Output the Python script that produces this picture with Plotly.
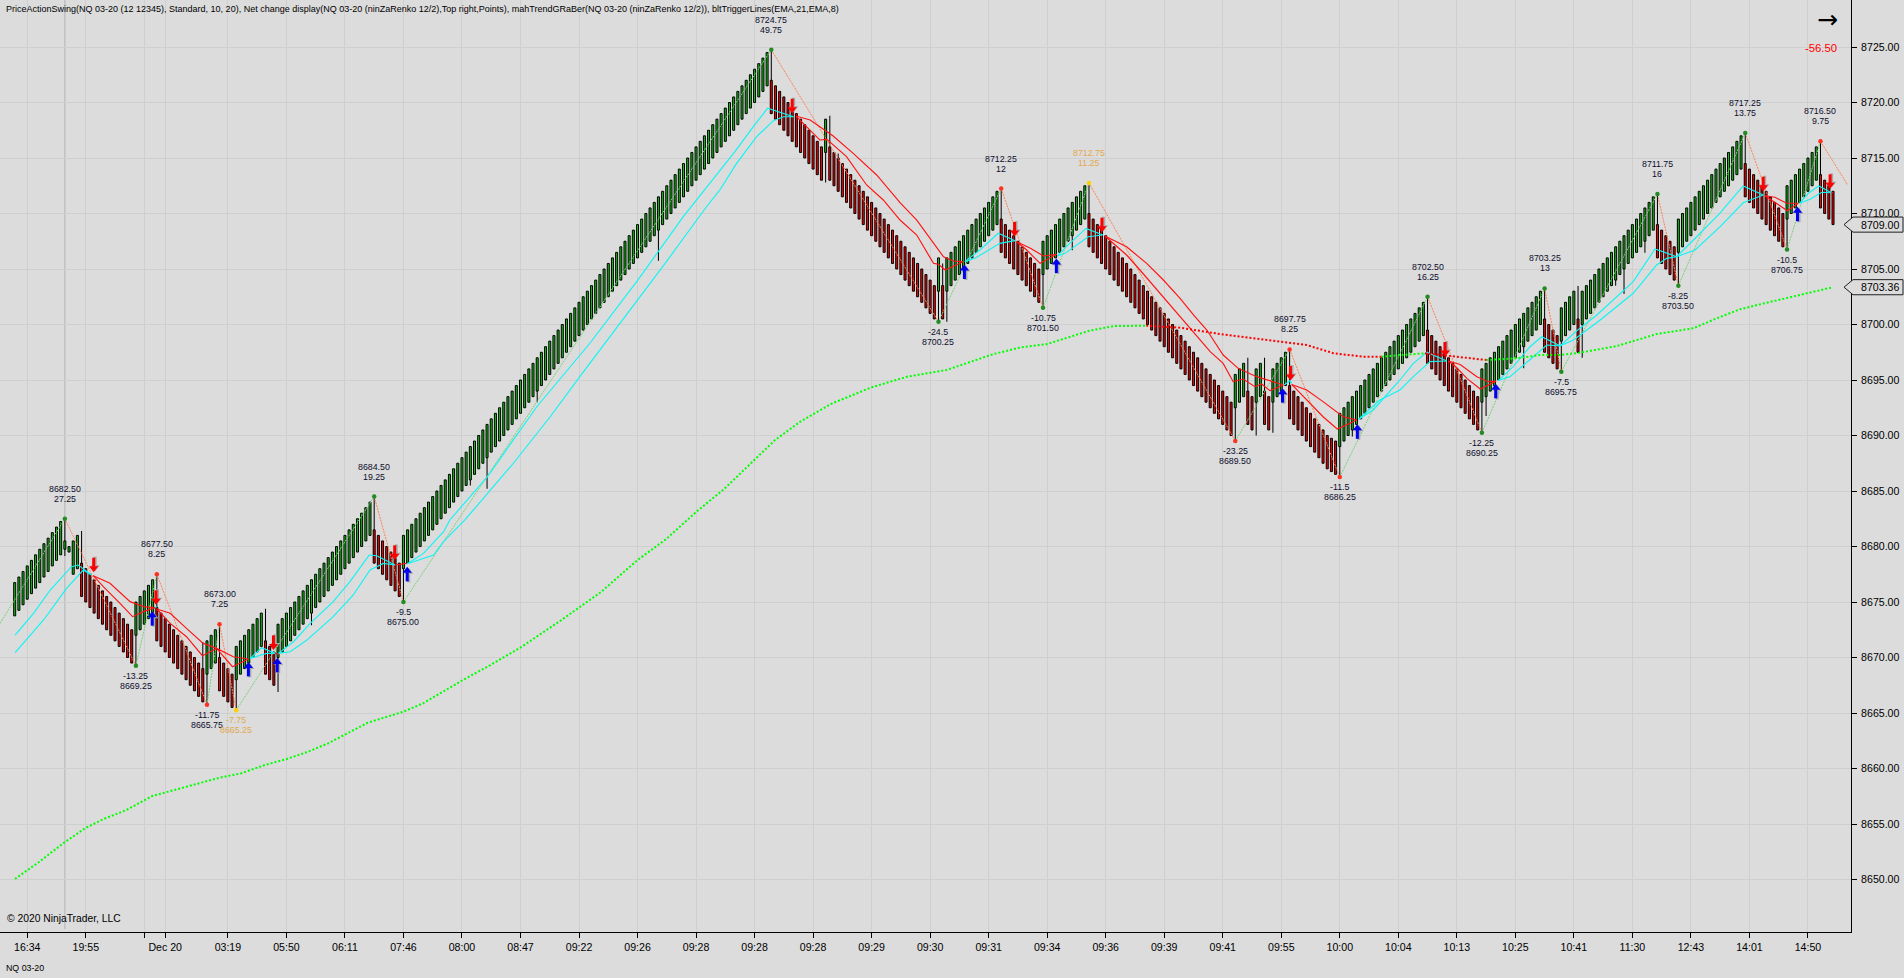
import plotly.graph_objects as go

# ---------- bars, one leg at a time ----------
leg_opens = [
 [8673.75,8674.25,8674.75,8675.25,8675.75,8676.25,8676.75,8677.25,8677.75,8678.25,8678.75,8679.25,8679.75,8679.5,8677.5,8678],
 [8678.5,8678,8677.5,8677,8676.5,8676,8675.5,8675,8674.5,8674,8673.5,8673,8672.5],
 [8672,8672.5,8673,8673.5,8674],
 [8674.5,8674,8673.5,8673,8672.5,8672,8671.5,8671,8670.5,8670,8669.5,8669],
 [8668.5,8669,8669.5],
 [8670,8669.5,8669,8668.5],
 [8668,8668.5,8669,8669.5,8670,8670.5,8671],
 [8671.5,8671,8670.5],
 [8670,8670.5,8671,8671.5,8672,8672.5,8673,8673.5,8674,8674.5,8675,8675.5,8676,8676.5,8677,8677.5,8678,8678.5,8679,8679.5,8680,8680.5,8681],
 [8681.5,8681,8680.5,8680,8679.5,8679,8678.5],
 [8678,8678.5,8679,8679.5,8680,8680.5,8681,8681.5,8682,8682.5,8683,8683.5,8684,8684.5,8685,8685.5,8686,8686.5,8687,8687.5,8688,8688.5,8689,8689.5,8690,8690.5,8691,8691.5,8692,8692.5,
  8693,8693.5,8694,8694.5,8695,8695.5,8696,8696.5,8697,8697.5,8698,8698.5,8699,8699.5,8700,8700.5,8701,8701.5,8702,8702.5,8703,8703.5,8704,8704.5,8705,8705.5,8706,8706.5,8707,8707.5,
  8708,8708.5,8709,8709.5,8710,8710.5,8711,8711.5,8712,8712.5,8713,8713.5,8714,8714.5,8715,8715.5,8716,8716.5,8717,8717.5,8718,8718.5,8719,8719.5,8720,8720.5,8721,8721.5],
 [8722,8721.5,8721,8720.5,8720,8719.5,8719,8718.5,8718,8717.5,8717,8716.5,8716],
 [8715.5],
 [8716,8715.5,8715,8714.5,8714,8713.5,8713,8712.5,8712,8711.5,8711,8710.5,8710,8709.5,8709,8708.5,8708,8707.5,8707,8706.5,8706,8705.5,8705,8704.5,8704,8703.5],
 [8703],[8703.5],[8703],
 [8703.5,8704,8704.5,8705,8705.5,8706,8706.5,8707,8707.5,8708,8708.5,8709],
 [8709.5,8709,8708.5,8708,8707.5,8707,8706.5,8706,8705.5,8705],
 [8704.5,8705,8705.5,8706,8706.5,8707,8707.5,8708,8708.5,8709,8709.5],
 [8710,8709.5,8709,8708.5,8708,8707.5,8707,8706.5,8706,8705.5,8705,8704.5,8704,8703.5,8703,8702.5,8702,8701.5,8701,8700.5,8700,8699.5,8699,8698.5,8698,8697.5,8697,8696.5,8696,8695.5,8695,8694.5,8694,8693.5,8693],
 [8692.5,8693,8693.5],[8694,8693.5],[8693,8693.5],[8694,8693.5],[8693,8693.5,8694,8694.5],
 [8694.5,8694,8693.5,8693,8692.5,8692,8691.5,8691,8690.5,8690,8689.75,8689.5],
 [8689,8689.5,8690,8690.5,8691,8691.5,8692,8692.5,8693,8693.5,8694,8694.5,8695,8695.5,8696,8696.5,8697,8697.5,8698,8698.5,8699],
 [8699.5,8699,8698.5,8698,8697.5,8697,8696.5,8696,8695.5,8695,8694.5,8694,8693.5],
 [8693,8693.5,8694,8694.5,8695,8695.5,8696,8696.5,8697,8697.5,8698,8698.5,8699,8699.5,8700],
 [8700.5,8700,8699.5,8699],[8698.5,8699,8699.5,8700],[8700.5],
 [8700,8700.5,8701,8701.5,8702,8702.5,8703,8703.5,8704,8704.5,8705,8705.5,8706,8706.5,8707,8707.5,8708,8708.5],
 [8709,8708.5,8708,8707.5,8707],
 [8706.5,8707,8707.5,8708,8708.5,8709,8709.5,8710,8710.5,8711,8711.5,8712,8712.5,8713,8713.5,8714],
 [8714.5,8714,8713.5,8713,8712.5,8712,8711.5,8711,8710.5,8710],
 [8709.5,8710,8710.5,8711,8711.5,8712,8712.5,8713],
 [8713.5,8713,8712.5,8712],
]
leg_closes = [
 [8676.75,8677.25,8677.75,8678.25,8678.75,8679.25,8679.75,8680.25,8680.75,8681.25,8681.75,8682.25,8680.5,8680,8680.5,8681],
 [8675.5,8675,8674.5,8674,8673.5,8673,8672.5,8672,8671.5,8671,8670.5,8670,8669.5],
 [8675,8675.5,8676,8676.5,8677],
 [8671.5,8671,8670.5,8670,8669.5,8669,8668.5,8668,8667.5,8667,8666.5,8666],
 [8671.5,8672,8672.5],
 [8667,8666.5,8666,8665.5],
 [8671,8671.5,8672,8672.5,8673,8673.5,8674],
 [8668.5,8668,8667.5],
 [8673,8673.5,8674,8674.5,8675,8675.5,8676,8676.5,8677,8677.5,8678,8678.5,8679,8679.5,8680,8680.5,8681,8681.5,8682,8682.5,8683,8683.5,8684],
 [8678.5,8678,8677.5,8677,8676.5,8676,8675.5],
 [8681,8681.5,8682,8682.5,8683,8683.5,8684,8684.5,8685,8685.5,8686,8686.5,8687,8687.5,8688,8688.5,8689,8689.5,8690,8690.5,8691,8691.5,8692,8692.5,8693,8693.5,8694,8694.5,8695,8695.5,
  8696,8696.5,8697,8697.5,8698,8698.5,8699,8699.5,8700,8700.5,8701,8701.5,8702,8702.5,8703,8703.5,8704,8704.5,8705,8705.5,8706,8706.5,8707,8707.5,8708,8708.5,8709,8709.5,8710,8710.5,
  8711,8711.5,8712,8712.5,8713,8713.5,8714,8714.5,8715,8715.5,8716,8716.5,8717,8717.5,8718,8718.5,8719,8719.5,8720,8720.5,8721,8721.5,8722,8722.5,8723,8723.5,8724,8724.5],
 [8719,8718.5,8718,8717.5,8717,8716.5,8716,8715.5,8715,8714.5,8714,8713.5,8713],
 [8718.5],
 [8713,8712.5,8712,8711.5,8711,8710.5,8710,8709.5,8709,8708.5,8708,8707.5,8707,8706.5,8706,8705.5,8705,8704.5,8704,8703.5,8703,8702.5,8702,8701.5,8701,8700.5],
 [8706],[8700.5],[8706],
 [8706.5,8707,8707.5,8708,8708.5,8709,8709.5,8710,8710.5,8711,8711.5,8712],
 [8706.5,8706,8705.5,8705,8704.5,8704,8703.5,8703,8702.5,8702],
 [8707.5,8708,8708.5,8709,8709.5,8710,8710.5,8711,8711.5,8712,8712.5],
 [8707,8706.5,8706,8705.5,8705,8704.5,8704,8703.5,8703,8702.5,8702,8701.5,8701,8700.5,8700,8699.5,8699,8698.5,8698,8697.5,8697,8696.5,8696,8695.5,8695,8694.5,8694,8693.5,8693,8692.5,8692,8691.5,8691,8690.5,8690],
 [8695.5,8696,8696.5],[8691,8690.5],[8696,8696.5],[8691,8690.5],[8696,8696.5,8697,8697.5],
 [8691.5,8691,8690.5,8690,8689.5,8689,8688.5,8688,8687.5,8687,8686.75,8686.5],
 [8692,8692.5,8693,8693.5,8694,8694.5,8695,8695.5,8696,8696.5,8697,8697.5,8698,8698.5,8699,8699.5,8700,8700.5,8701,8701.5,8702],
 [8696.5,8696,8695.5,8695,8694.5,8694,8693.5,8693,8692.5,8692,8691.5,8691,8690.5],
 [8696,8696.5,8697,8697.5,8698,8698.5,8699,8699.5,8700,8700.5,8701,8701.5,8702,8702.5,8703],
 [8697.5,8697,8696.5,8696],[8701.5,8702,8702.5,8703],[8697.5],
 [8703,8703.5,8704,8704.5,8705,8705.5,8706,8706.5,8707,8707.5,8708,8708.5,8709,8709.5,8710,8710.5,8711,8711.5],
 [8706,8705.5,8705,8704.5,8704],
 [8709.5,8710,8710.5,8711,8711.5,8712,8712.5,8713,8713.5,8714,8714.5,8715,8715.5,8716,8716.5,8717],
 [8711.5,8711,8710.5,8710,8709.5,8709,8708.5,8708,8707.5,8707],
 [8712.5,8713,8713.5,8714,8714.5,8715,8715.5,8716],
 [8710.5,8710,8709.5,8709],
]
# wicks: only the bars that show one
low_wick_bars = [12,29,46,53,56,63,71,93,109,113,125,154,194,221,223,246,253,292,297,301,317,320,351,352,361,370,375,383,385,390,398,424]
low_wick_vals = [8679.15,8669.25,8665.75,8665.25,8668.4,8666.9,8672.9,8675,8685.5,8685.2,8693,8705.75,8712.8,8700.25,8700.25,8701.5,8706.7,8689.5,8690,8690.25,8686.25,8689.9,8690.25,8691.75,8696.05,8695.75,8697,8703.5,8702.75,8706.47,8703.5,8706.75]
high_wick_bars = [12,16,34,45,49,60,86,181,195,197,222,236,257,260,295,299,305,338,342,366,374,393,414,432]
high_wick_vals = [8682.5,8681.4,8677.5,8671.4,8673,8674.4,8684.5,8724.75,8718.8,8715.4,8705.5,8712.25,8712.75,8709.6,8697,8697,8697.75,8702.5,8698.4,8703.25,8703.47,8711.75,8717.25,8716.5]

# ---------- swing points ----------
pivot_bar = [12,29,34,46,49,53,86,93,181,221,236,246,257,292,305,317,338,351,366,370,393,398,414,424,432]
pivot_price = [8682.5,8669.25,8677.5,8665.75,8673,8665.25,8684.5,8675,8724.75,8700.25,8712.25,8701.5,8712.75,8689.5,8697.75,8686.25,8702.5,8690.25,8703.25,8695.75,8711.75,8703.5,8717.25,8706.75,8716.5]
pivot_line1 = ["8682.50","-13.25","8677.50","-11.75","8673.00","-7.75","8684.50","-9.5","8724.75","-24.5","8712.25","-10.75","8712.75","-23.25","8697.75","-11.5","8702.50","-12.25","8703.25","-7.5","8711.75","-8.25","8717.25","-10.5","8716.50"]
pivot_line2 = ["27.25","8669.25","8.25","8665.75","7.25","8665.25","19.25","8675.00","49.75","8700.25","12","8701.50","11.25","8689.50","8.25","8686.25","16.25","8690.25","13","8695.75","16","8703.50","13.75","8706.75","9.75"]
pivot_dot = ["#228B22","#228B22","#FF3020","#FF3020","#FF3020","#FFD000","#228B22","#228B22","#228B22","#228B22","#FF3020","#228B22","#FFD000","#FF3020","#FF3020","#FF3020","#228B22","#228B22","#228B22","#228B22","#228B22","#228B22","#228B22","#228B22","#FF3020"]
zigzag_lead_in = (-3.5, 8673.07)
zigzag_tail = (438.5, 8712.57)

# ---------- trigger lines (None = break) ----------
cyan_a_x = [0.1,4.5,8.5,13.6,15.2,18.4,None,33,34,None,56.3,59.1,62.3,None,63.1,66.7,70.7,76.2,80.2,84.8,86.6,91,None,93.8,97.8,102.6,104.1,113.1,124.9,137.6,148.8,159.95,168.7,172.3,176.7,180.1,186.3,None,227.3,230.9,235.3,239.3,None,249.4,252.4,256.3,260.3,None,303.7,305.1,305.5,None,321.5,325,331.4,334.6,337.8,342.6,None,354.9,358.5,362.5,365.3,369.7,373.7,378.5,387.2,392.4,397.6,401.6,407.9,413.5,418.3,None,427,429.1,431.6,434.6]
cyan_a_y = [8672.02,8673.98,8676.08,8678.18,8678.33,8677.43,None,8674.43,8674.58,None,8669.92,8670.88,8670.37,None,8670.37,8671.42,8673.07,8675.03,8676.83,8679.23,8679.17,8678.33,None,8678.42,8679.38,8681.33,8682.39,8686.29,8692.59,8698.31,8703.86,8709.71,8713.92,8715.57,8717.82,8719.48,8718.72,None,8705.66,8706.71,8708.22,8707.55,None,8706.17,8707.31,8708.66,8708.06,None,8694.55,8694.94,8694.7,None,8691.46,8692.3,8695,8696.5,8697.5,8696.71,None,8694.95,8696.2,8698,8698.9,8698.08,8699.44,8700.86,8703.86,8706.8,8706.11,8707.61,8710.02,8712.48,8711.67,None,8710.92,8711.82,8712.48,8711.87]
cyan_b_x = [0.1,6.9,12.4,16.4,18.4,None,56.3,60.3,62.3,None,63.1,65.9,69.9,76.2,81,85,88.2,91,None,93.8,100.2,102.6,107.7,119.3,128.1,135.2,147.2,155.6,165.5,168.7,172.7,177.5,181.5,183.9,186.3,None,227.3,229.7,235.7,239.3,None,249.4,251.3,256.8,260.3,None,321.5,326.6,331.4,334.6,338.6,342.6,None,354.9,357.7,363.3,366.5,369.7,372.9,379.3,387.2,392.8,395.2,397.6,402,408,413.5,418.3,None,427,429.5,432.3,434.6]
cyan_b_y = [8670.43,8673.38,8676.23,8677.88,8677.43,None,8669.92,8670.37,8670.37,None,8670.37,8670.52,8671.57,8673.68,8675.63,8677.88,8678.48,8678.33,None,8678.42,8679.23,8680.43,8682.39,8687.5,8691.69,8695.3,8701.3,8705.51,8710.61,8712.12,8714.52,8716.92,8718.36,8718.72,8718.72,None,8705.66,8705.96,8707.31,8707.55,None,8706.17,8706.41,8707.91,8708.06,None,8691.46,8693.2,8694.1,8695.3,8696.65,8696.71,None,8694.95,8695.3,8697.1,8698.15,8698.08,8698.6,8700.41,8702.81,8705.36,8705.96,8706.11,8706.71,8708.81,8710.97,8711.67,None,8710.92,8711.28,8711.91,8711.87]
red_a_x = [18.8,22.8,27.6,30.8,33.6,None,34,37.2,41.1,45.1,48.3,52.3,55.9,None,62.3,63.1,None,91,93.8,None,186.9,190.3,195.8,200.6,206.2,211.8,215.8,219.8,222.2,224.5,226.9,None,239.7,243,246.1,249.3,None,260.8,266,270.8,274.8,278.8,282,285.2,289.1,292.7,297.1,303.5,None,305.5,309.1,313,317.8,321.1,None,343,345.8,349.8,352.5,354.4,None,418.7,421.1,423.9,426.7,None,434.6,435]
red_a_y = [8677.37,8676.68,8675.03,8674.58,8674.49,None,8674.37,8673.98,8672.63,8671.27,8670.82,8670.07,8669.86,None,8670.37,8670.3,None,8678.33,8678.48,None,8718.78,8718.42,8716.98,8715.42,8713.47,8710.97,8709.41,8707.31,8706.1,8705.72,8705.66,None,8707.46,8706.87,8706.17,8706.32,None,8707.97,8707,8705.51,8704.01,8702.36,8700.86,8699.5,8697.25,8696.05,8695.3,8694.55,None,8694.6,8694.1,8693.05,8691.69,8691.4,None,8696.71,8696.4,8695.3,8694.85,8694.9,None,8711.6,8711.46,8710.92,8710.92,None,8711.87,8711.9]
red_b_x = [18.8,21.2,25.2,28.2,30.8,33.6,None,34,37.2,41.1,44.9,48.3,52.1,55.9,None,186.9,192.6,194.3,199,203.8,207.8,211.8,215.8,219.8,221,222.6,226.9,None,239.7,242.1,245.3,249.3,None,260.8,266,269.2,274,278,282,286,289.1,291.5,293.9,296.7,298.3,300.3,303.5,None,305.5,309.1,313,316.4,321.1,None,343,345,347.4,350.6,354.4,None,418.7,421.5,424.1,426.7]
red_b_y = [8677.37,8676.38,8674.88,8673.68,8674.13,8674.49,None,8674.37,8673.07,8671.87,8670.16,8670.82,8669.17,8669.86,None,8718.78,8716.62,8716.68,8715.12,8712.57,8711.22,8709.41,8708.06,8705.51,8705.42,8704.91,8705.66,None,8707.46,8706.71,8705.51,8706.32,None,8707.97,8706.26,8704.91,8702.81,8701.01,8699.21,8697.55,8696.5,8694.85,8695.09,8694.4,8694.64,8694.04,8694.55,None,8694.6,8693.2,8691.69,8690.59,8691.4,None,8696.71,8696.1,8695.15,8694.19,8694.9,None,8711.6,8710.86,8710.25,8710.92]

# ---------- slow trend line ----------
trend_up_x = [0.07,5.9,11.6,16.8,21.1,26.7,32.9,38.1,42.8,49,54.2,59.9,65.1,69.8,75,84.5,93,97.7,107.2,113.8,121.3,130.8,140.2,149,155.8,163.1,169.9,176.8,181.9,187.9,195.6,205,213.5,222.9,234,240.8,246.8,257.1,263,270.7,None,327,337.4,None,352.1,359.3,364.9,369.7,374.5,383.3,392.8,401.6,407.2,412.7,419.1,427.1,435]
trend_up_y = [8650.05,8651.6,8653.26,8654.61,8655.42,8656.26,8657.52,8658.06,8658.51,8659.17,8659.57,8660.32,8660.86,8661.46,8662.27,8664.13,8665.12,8665.87,8667.97,8669.32,8670.97,8673.38,8675.88,8678.78,8680.65,8683.14,8685.24,8687.73,8689.59,8691.24,8692.9,8694.34,8695.3,8695.9,8697.32,8697.95,8698.22,8699.44,8699.86,8699.89,None,8697.1,8697.41,None,8696.8,8696.95,8697.25,8697.25,8697.46,8698.06,8699.14,8699.66,8700.56,8701.37,8701.96,8702.66,8703.36]
trend_down_x = [270.7,278.8,288.4,296.3,302.7,309.1,315.5,322.6,327,None,337.4,344.1,352.1]
trend_down_y = [8699.89,8699.71,8699.14,8698.76,8698.45,8698.15,8697.41,8697.1,8697.1,None,8697.41,8697.16,8696.8]

# ---------- signal arrows (tip position) ----------
down_arrow_bar = [18.9,33.8,61.9,90.9,186,239.2,260.1,305.2,342.2,418.3,434.3]
down_arrow_price = [8677.73,8674.79,8670.73,8678.84,8719.08,8707.97,8708.36,8695,8697.16,8712.05,8712.27]
up_arrow_bar = [32.9,55.9,62.8,93.9,227.2,249.2,303.3,321.2,354.3,426.5]
up_arrow_price = [8674.13,8669.56,8669.92,8678.12,8705.36,8705.9,8694.22,8690.96,8694.61,8710.56]

# ---------- axes ----------
x_tick_bars = [3,17,31,36,51,65,79,93,107,121,135,149,163,177,191,205,219,233,247,261,275,289,303,317,331,345,359,373,387,401,415,429]
x_tick_text = ["16:34","19:55","","Dec 20","03:19","05:50","06:11","07:46","08:00","08:47","09:22","09:26","09:28","09:28","09:28","09:29","09:30","09:31","09:34","09:36","09:39","09:41","09:55","10:00","10:04","10:13","10:25","10:41","11:30","12:43","14:01","14:50"]
y_ticks = [8650,8655,8660,8665,8670,8675,8680,8685,8690,8695,8700,8705,8710,8715,8720,8725]
last_price = 8709.00
trend_last = 8703.36
net_change = "-56.50"
title_text = "PriceActionSwing(NQ 03-20 (12 12345), Standard, 10, 20), Net change display(NQ 03-20 (ninZaRenko 12/2),Top right,Points), mahTrendGRaBer(NQ 03-20 (ninZaRenko 12/2)), bltTriggerLines(EMA,21,EMA,8)"

# ---------- build ----------
opens = [v for leg in leg_opens for v in leg]
closes = [v for leg in leg_closes for v in leg]
bars = list(range(len(closes)))
highs = [max(o, c) for o, c in zip(opens, closes)]
lows = [min(o, c) for o, c in zip(opens, closes)]
for b, v in zip(low_wick_bars, low_wick_vals):
    lows[b] = v
for b, v in zip(high_wick_bars, high_wick_vals):
    highs[b] = v

FONT = "Liberation Sans"
BG = "#DCDCDC"
PW, PH = 1851.0, 932.0     # plot area in pixels
XR = [-3.517, 439.3]
YR = [8645.27, 8729.234]
PX_PER_BAR = PW / (XR[1] - XR[0])
PX_PER_POINT = PH / (YR[1] - YR[0])
px = lambda v: v / PW
py = lambda v: 1 - v / PH

fig = go.Figure()
# wicks, then bodies, as bars so that the edges snap to whole pixels
wick_set = sorted(set(low_wick_bars) | set(high_wick_bars))
fig.add_trace(go.Bar(x=wick_set, base=[lows[b] for b in wick_set], y=[highs[b] - lows[b] for b in wick_set],
    width=1.0 / PX_PER_BAR, marker=dict(color="#000000", line=dict(color="#000000", width=0.02)),
    hoverinfo="skip", showlegend=False))
fig.add_trace(go.Bar(x=bars, base=[min(o, c) for o, c in zip(opens, closes)], y=[abs(c - o) for o, c in zip(opens, closes)],
    width=2.0 / PX_PER_BAR,
    marker=dict(color=["#10C010" if c > o else "#FF0000" for o, c in zip(opens, closes)], line=dict(color="#000000", width=1)),
    hoverinfo="skip", showlegend=False))

# swing zigzag
seq_x = [zigzag_lead_in[0]] + pivot_bar + [zigzag_tail[0]]
seq_y = [zigzag_lead_in[1]] + pivot_price + [zigzag_tail[1]]
up_x, up_y, dn_x, dn_y = [], [], [], []
for k in range(len(seq_x) - 1):
    tx, ty = (up_x, up_y) if seq_y[k + 1] > seq_y[k] else (dn_x, dn_y)
    tx += [seq_x[k], seq_x[k + 1], None]
    ty += [seq_y[k], seq_y[k + 1], None]
fig.add_trace(go.Scatter(x=up_x, y=up_y, mode="lines", line=dict(color="#78D078", width=1, dash="2px,1px"), hoverinfo="skip", showlegend=False))
fig.add_trace(go.Scatter(x=dn_x, y=dn_y, mode="lines", line=dict(color="#FF8050", width=1, dash="2px,1px"), hoverinfo="skip", showlegend=False))

for xs, ys, col in [(cyan_a_x, cyan_a_y, "#10F4F4"), (cyan_b_x, cyan_b_y, "#10F4F4"),
                    (red_a_x, red_a_y, "#FF1414"), (red_b_x, red_b_y, "#FF1414")]:
    fig.add_trace(go.Scatter(x=xs, y=ys, mode="lines", line=dict(color=col, width=1.15), hoverinfo="skip", showlegend=False, connectgaps=False))

fig.add_trace(go.Scatter(x=trend_up_x, y=trend_up_y, mode="lines", line=dict(color="#00FF00", width=2, dash="2px,2px"), hoverinfo="skip", showlegend=False))
fig.add_trace(go.Scatter(x=trend_down_x, y=trend_down_y, mode="lines", line=dict(color="#FF0000", width=2, dash="2px,2px"), hoverinfo="skip", showlegend=False))

fig.add_trace(go.Scatter(x=pivot_bar, y=pivot_price, mode="markers",
    marker=dict(color=pivot_dot, size=4.5, line=dict(width=0)), hoverinfo="skip", showlegend=False))

# block arrows: grey shadow first, then the colour
def arrows(bs, ps, sign, color, symbol, dx_px=0.0, dy_px=0.0):
    to_p = 1.0 / PX_PER_POINT
    xs, ys = [], []
    for b, p in zip(bs, ps):
        x = b + dx_px / PX_PER_BAR
        base = p + dy_px * to_p
        xs += [x, x, None]
        ys += [base + sign * 5 * to_p, base + sign * 14 * to_p, None]
    fig.add_trace(go.Scatter(x=xs, y=ys, mode="lines", line=dict(color=color, width=3), hoverinfo="skip", showlegend=False))
    fig.add_trace(go.Scatter(x=[b + dx_px / PX_PER_BAR for b in bs], y=[p + (dy_px + sign * 3.5) * to_p for p in ps], mode="markers",
        marker=dict(symbol=symbol, color=color, size=8, line=dict(width=0)), hoverinfo="skip", showlegend=False))

arrows(down_arrow_bar, down_arrow_price, 1, "#A9A9A9", "triangle-down", 1.5, 1.0)
arrows(up_arrow_bar, up_arrow_price, -1, "#A9A9A9", "triangle-up", 1.5, -1.0)
arrows(down_arrow_bar, down_arrow_price, 1, "#FF0000", "triangle-down")
arrows(up_arrow_bar, up_arrow_price, -1, "#0000F0", "triangle-up")

ann = []
for b, p, l1, l2 in zip(pivot_bar, pivot_price, pivot_line1, pivot_line2):
    is_low = l1.startswith("-")
    gold = p in (8665.25, 8712.75)
    col = "#E2A850" if gold else "#0C0C2C"
    s1, s2 = (-10, -20) if is_low else (30, 20)
    for txt, s in ((l1, s1), (l2, s2)):
        ann.append(dict(x=b, y=p, xref="x", yref="y", text=txt, showarrow=False, yshift=s, yanchor="middle",
                        xanchor="center", font=dict(family=FONT, size=8.8, color=col)))

def label(x, y, text, size, color="#000000", anchor="left", family=FONT):
    ann.append(dict(x=px(x), y=py(y), xref="paper", yref="paper", text=text, showarrow=False, xanchor=anchor,
                    yanchor="middle", font=dict(family=family, size=size, color=color)))
label(4, 9, title_text, 9.0)
label(5, 918, "© 2020 NinjaTrader, LLC", 10.3)
label(4, 968, "NQ 03-20", 8.8)
label(1827, 20, "→", 25, anchor="center", family="DejaVu Sans")
label(1821, 48.5, net_change, 11.3, color="#FF0000", anchor="center")

# session break and price call-outs on the axis
shapes = [dict(type="line", xref="x", yref="paper", x0=12, x1=12, y0=py(929), y1=1, line=dict(color="#B4B4B4", width=1), layer="below")]
for price in (last_price, trend_last):
    h = 0.68
    x_tip, x_in, x_out = px(1844), px(1853), px(1903)
    shapes.append(dict(type="path", xref="paper", yref="y", layer="above", fillcolor=BG, line=dict(color="#202020", width=1),
        path=f"M {x_tip} {price} L {x_in} {price + h} L {x_out} {price + h} L {x_out} {price - h} L {x_in} {price - h} Z"))
    ann.append(dict(x=px(1859), y=price, xref="paper", yref="y", text=f"{price:.2f}", showarrow=False, xanchor="left",
                    yanchor="middle", font=dict(family=FONT, size=10.6, color="#000000")))

fig.update_layout(
    width=1904, height=978, margin=dict(l=0, r=1904 - PW, t=0, b=978 - PH, pad=0), autosize=False,
    paper_bgcolor=BG, plot_bgcolor=BG, showlegend=False, barmode="overlay",
    annotations=ann, shapes=shapes, hovermode=False,
    font=dict(family=FONT, size=10.6, color="#000000"),
    xaxis=dict(range=XR, tickmode="array", tickvals=x_tick_bars, ticktext=x_tick_text,
               showgrid=True, gridcolor="#CFCFCF", gridwidth=1, zeroline=False, showline=True, linecolor="#000000", linewidth=1,
               ticks="outside", ticklen=5, tickcolor="#000000", tickangle=0, tickfont=dict(family=FONT, size=10.6, color="#000000")),
    yaxis=dict(range=YR, side="right", tickmode="array", tickvals=y_ticks, ticktext=[f"{v:.2f}" for v in y_ticks],
               showgrid=True, gridcolor="#CFCFCF", gridwidth=1, zeroline=False, showline=True, linecolor="#000000", linewidth=1,
               ticks="outside", ticklen=5, tickcolor="#000000", ticklabelstandoff=2, tickfont=dict(family=FONT, size=10.6, color="#000000")),
)
fig.write_html("out.html", config={"displayModeBar": False},
               post_script="document.body.style.margin='0';document.body.style.overflow='hidden';")
